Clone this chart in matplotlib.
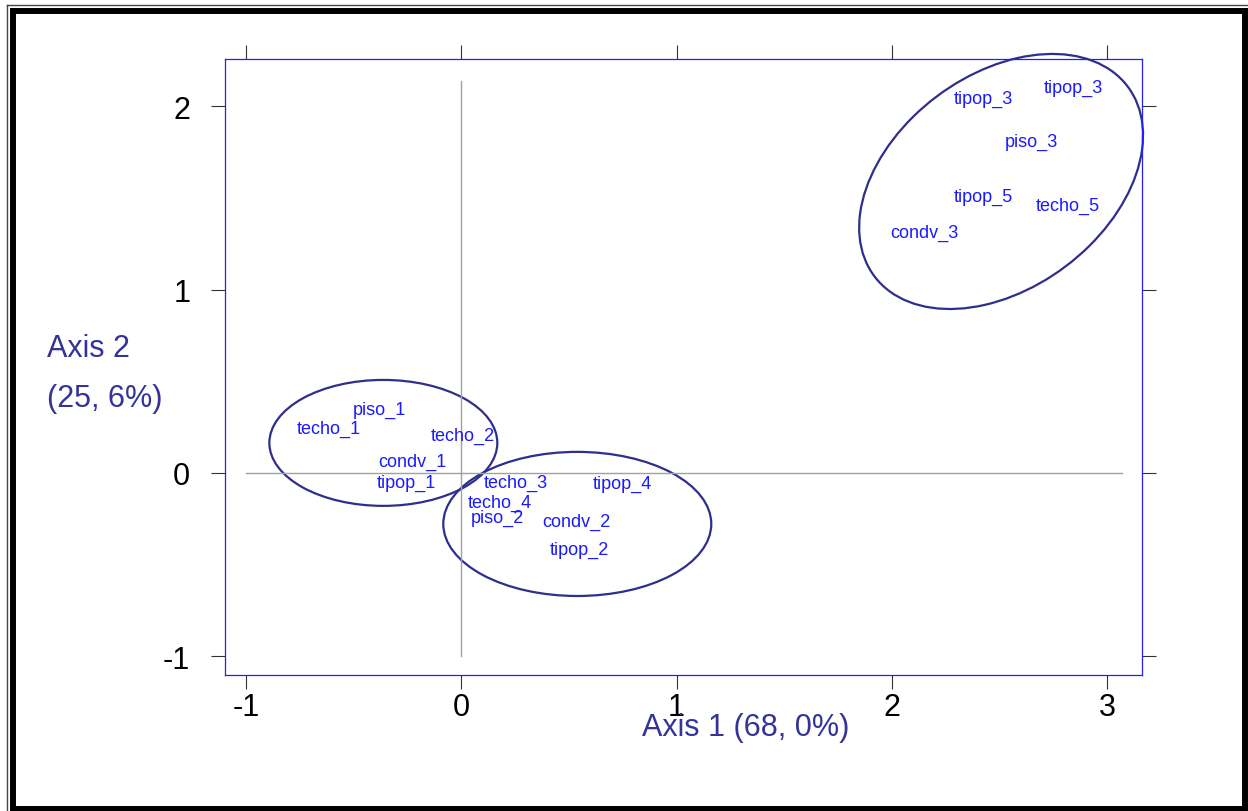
import matplotlib
matplotlib.use("Agg")
import matplotlib.pyplot as plt
from matplotlib.patches import Ellipse, Rectangle
from matplotlib.lines import Line2D

plt.rcParams['font.family'] = ['Liberation Sans', 'DejaVu Sans']
plt.rcParams['axes.unicode_minus'] = False

# category labels and their coordinates on the two factorial axes
labels = ["piso_1", "techo_1", "techo_2", "condv_1", "tipop_1",
          "techo_3", "tipop_4", "techo_4", "piso_2", "condv_2", "tipop_2",
          "tipop_3", "tipop_3", "piso_3", "tipop_5", "techo_5", "condv_3"]
axis1 = [-0.382, -0.614, 0.008, -0.226, -0.255,
         0.254, 0.747, 0.180, 0.168, 0.536, 0.549,
         2.425, 2.845, 2.649, 2.425, 2.819, 2.152]
axis2 = [0.322, 0.218, 0.180, 0.040, -0.078,
         -0.078, -0.083, -0.187, -0.269, -0.287, -0.442,
         2.018, 2.080, 1.782, 1.485, 1.436, 1.286]

# group ellipses: centre x, centre y, width, height, angle (data units)
ell_cx = [-0.362, 0.539, 2.508]
ell_cy = [0.164, -0.278, 1.590]
ell_w = [1.059, 1.245, 1.584]
ell_h = [0.687, 0.786, 1.080]
ell_ang = [0.0, 0.0, 49.2]

xticks = [-1, 0, 1, 2, 3]
yticks = [-1, 0, 1, 2]
xlabel = "Axis 1 (68, 0%)"
ylabel = ["Axis 2", "(25, 6%)"]

W, H = 1248, 812
fig = plt.figure(figsize=(W / 100, H / 100), dpi=100)
ax = fig.add_axes([225 / W, 1 - 676 / H, (1142 - 225) / W, (676 - 60) / H])
ax.set_xlim(-1.0976, 3.1626)
ax.set_ylim(-1.102, 2.258)

# reference lines through the origin
ax.plot([0, 0], [-1, 2.14], color="#a0a0a0", lw=1)
ax.plot([-1, 3.07], [0, 0], color="#a0a0a0", lw=1)

for cx, cy, w, h, a in zip(ell_cx, ell_cy, ell_w, ell_h, ell_ang):
    ax.add_patch(Ellipse((cx, cy), w, h, angle=a, fill=False,
                         edgecolor="#2e2e8c", lw=1.6, clip_on=False))

for lab, x, y in zip(labels, axis1, axis2):
    ax.text(x, y, lab, ha="center", va="baseline", fontsize=13, color="#1a1aff")

ax.set_xticks(xticks)
ax.set_yticks(yticks)
ax.tick_params(direction="out", length=10, width=0.8, color="#333333",
               top=True, right=True, labelsize=22)
ax.tick_params(axis="x", pad=2)
ax.tick_params(axis="y", pad=15)
for s in ax.spines.values():
    s.set_color("#2020ff")
    s.set_linewidth(0.9)

fig.text(642 / W, 1 - 736 / H, xlabel, ha="left", va="baseline",
         fontsize=22, color="#333399")
fig.text(47 / W, 1 - 357 / H, ylabel[0], ha="left", va="baseline",
         fontsize=22, color="#333399")
fig.text(47 / W, 1 - 407 / H, ylabel[1], ha="left", va="baseline",
         fontsize=22, color="#333399")

# window frame
fig.add_artist(Rectangle((13 / W, 2.5 / H), (1244.5 - 13) / W, (800 - 2.5) / H,
                         transform=fig.transFigure, fill=False,
                         edgecolor="black", lw=4.3))
fig.add_artist(Line2D([6.5 / W, 6.5 / W], [0, 1 - 5.5 / H],
                      transform=fig.transFigure, color="#444444", lw=1))
fig.add_artist(Line2D([6.5 / W, 1], [1 - 5.5 / H, 1 - 5.5 / H],
                      transform=fig.transFigure, color="#444444", lw=1))

fig.savefig("out.png", dpi=100)
